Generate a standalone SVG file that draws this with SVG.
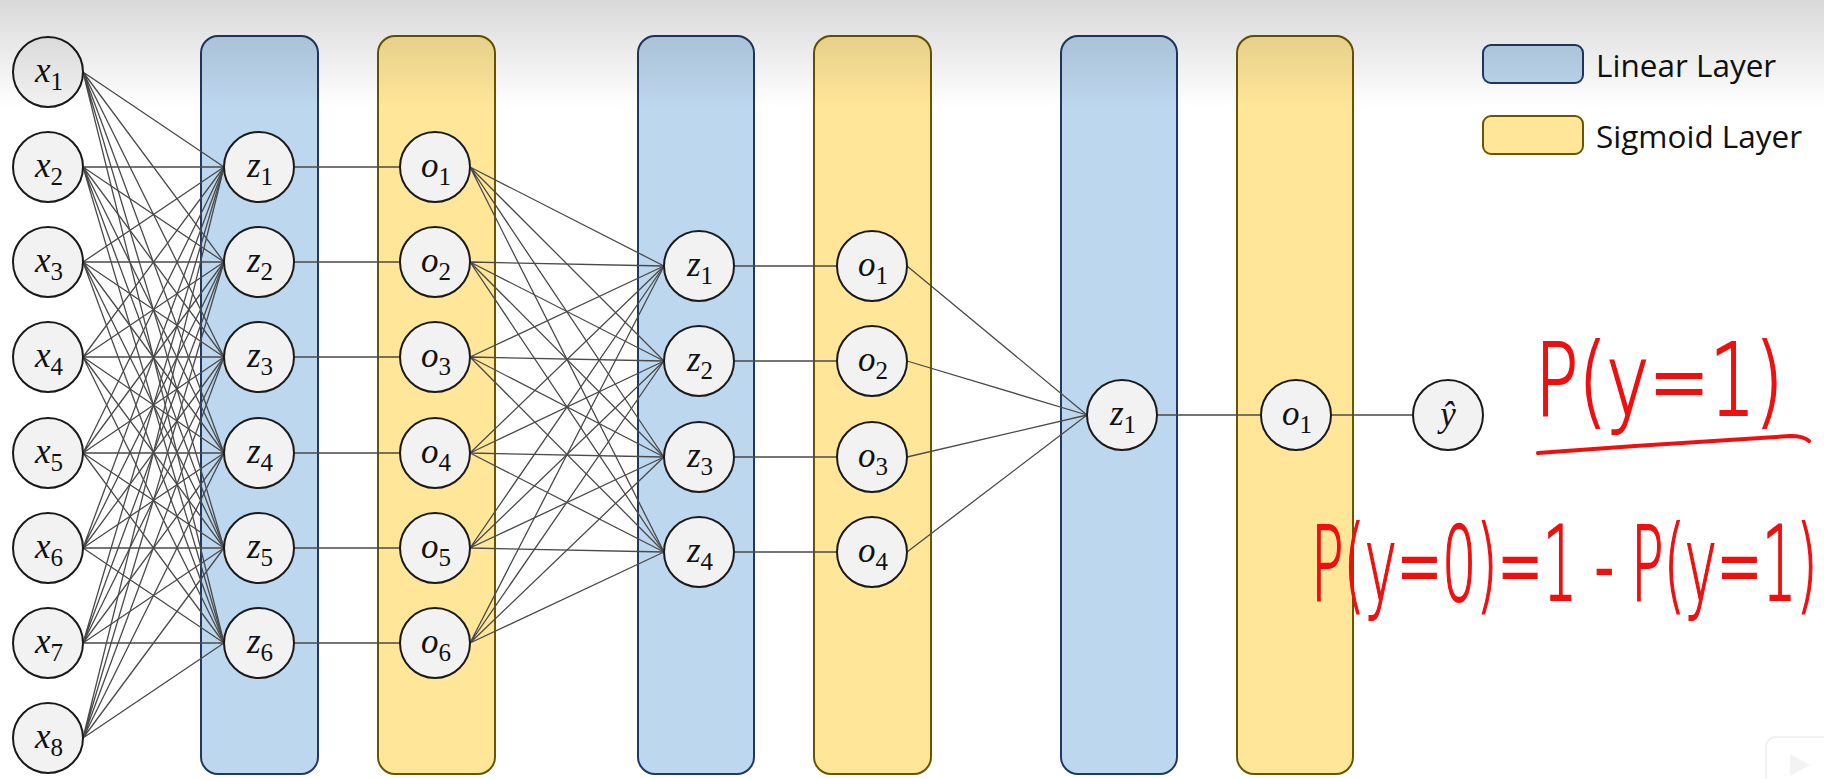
<svg xmlns="http://www.w3.org/2000/svg" width="1824" height="779" viewBox="0 0 1824 779">
<defs>
<linearGradient id="shade" x1="0" y1="0" x2="0" y2="1">
<stop offset="0" stop-color="#000" stop-opacity="0.15"/>
<stop offset="1" stop-color="#000" stop-opacity="0"/>
</linearGradient>
<style>
.lin{fill:#BDD7EE;stroke:#1F3864;stroke-width:2}
.sig{fill:#FFE699;stroke:#6B5500;stroke-width:2}
.node{fill:#F2F2F2;stroke:#1A1A1A;stroke-width:2}
.edge{fill:none;stroke:#4A4A4A;stroke-width:1.3}
.lbl{font-family:"Liberation Serif",serif;font-size:35px;text-anchor:middle;fill:#111}
.v{font-style:italic}
.s{font-size:25px}
.leg{font-family:"Open Sans","Noto Sans",sans-serif;font-size:31.5px;fill:#111}
.hand{font-family:"DejaVu Sans",sans-serif;font-weight:200;fill:#EE1010;stroke:#EE1010;stroke-width:2}
</style>
</defs>
<rect width="1824" height="779" fill="#FFFFFF"/>

<g id="columns">
<rect id="lin1" class="lin" x="201" y="36" width="117" height="738" rx="17"/>
<rect id="sig1" class="sig" x="378" y="36" width="117" height="738" rx="17"/>
<rect id="lin2" class="lin" x="638" y="36" width="116" height="738" rx="17"/>
<rect id="sig2" class="sig" x="814" y="36" width="117" height="738" rx="17"/>
<rect id="lin3" class="lin" x="1061" y="36" width="116" height="738" rx="17"/>
<rect id="sig3" class="sig" x="1237" y="36" width="116" height="738" rx="17"/>
</g>

<g id="legend">
<rect class="lin" x="1483" y="45" width="100" height="38" rx="8"/>
<text class="leg" x="1596" y="77">Linear Layer</text>
<rect class="sig" x="1483" y="116" width="100" height="38" rx="8"/>
<text class="leg" x="1596" y="148">Sigmoid Layer</text>
</g>

<g id="connectors">
<path class="edge" d="M83 72L224 167M83 72L224 262M83 72L224 357M83 72L224 453M83 72L224 548M83 72L224 643"/>
<path class="edge" d="M83 167L224 167M83 167L224 262M83 167L224 357M83 167L224 453M83 167L224 548M83 167L224 643"/>
<path class="edge" d="M83 262L224 167M83 262L224 262M83 262L224 357M83 262L224 453M83 262L224 548M83 262L224 643"/>
<path class="edge" d="M83 357L224 167M83 357L224 262M83 357L224 357M83 357L224 453M83 357L224 548M83 357L224 643"/>
<path class="edge" d="M83 453L224 167M83 453L224 262M83 453L224 357M83 453L224 453M83 453L224 548M83 453L224 643"/>
<path class="edge" d="M83 548L224 167M83 548L224 262M83 548L224 357M83 548L224 453M83 548L224 548M83 548L224 643"/>
<path class="edge" d="M83 643L224 167M83 643L224 262M83 643L224 357M83 643L224 453M83 643L224 548M83 643L224 643"/>
<path class="edge" d="M83 738L224 167M83 738L224 262M83 738L224 357M83 738L224 453M83 738L224 548M83 738L224 643"/>
<path class="edge" d="M294 167H400M294 262H400M294 357H400M294 453H400M294 548H400M294 643H400"/>
<path class="edge" d="M470 167L664 266M470 167L664 361M470 167L664 457M470 167L664 552"/>
<path class="edge" d="M470 262L664 266M470 262L664 361M470 262L664 457M470 262L664 552"/>
<path class="edge" d="M470 357L664 266M470 357L664 361M470 357L664 457M470 357L664 552"/>
<path class="edge" d="M470 453L664 266M470 453L664 361M470 453L664 457M470 453L664 552"/>
<path class="edge" d="M470 548L664 266M470 548L664 361M470 548L664 457M470 548L664 552"/>
<path class="edge" d="M470 643L664 266M470 643L664 361M470 643L664 457M470 643L664 552"/>
<path class="edge" d="M734 266H837M734 361H837M734 457H837M734 552H837"/>
<path class="edge" d="M907 266L1087 415M907 361L1087 415M907 457L1087 415M907 552L1087 415"/>
<path class="edge" d="M1157 415H1261M1331 415H1413"/>
</g>

<g id="input-layer">
<g id="x1"><circle class="node" cx="48" cy="72" r="35"/><text class="lbl" x="49" y="82"><tspan class="v">x</tspan><tspan class="s" dy="8">1</tspan></text></g>
<g id="x2"><circle class="node" cx="48" cy="167" r="35"/><text class="lbl" x="49" y="177"><tspan class="v">x</tspan><tspan class="s" dy="8">2</tspan></text></g>
<g id="x3"><circle class="node" cx="48" cy="262" r="35"/><text class="lbl" x="49" y="272"><tspan class="v">x</tspan><tspan class="s" dy="8">3</tspan></text></g>
<g id="x4"><circle class="node" cx="48" cy="357" r="35"/><text class="lbl" x="49" y="367"><tspan class="v">x</tspan><tspan class="s" dy="8">4</tspan></text></g>
<g id="x5"><circle class="node" cx="48" cy="453" r="35"/><text class="lbl" x="49" y="463"><tspan class="v">x</tspan><tspan class="s" dy="8">5</tspan></text></g>
<g id="x6"><circle class="node" cx="48" cy="548" r="35"/><text class="lbl" x="49" y="558"><tspan class="v">x</tspan><tspan class="s" dy="8">6</tspan></text></g>
<g id="x7"><circle class="node" cx="48" cy="643" r="35"/><text class="lbl" x="49" y="653"><tspan class="v">x</tspan><tspan class="s" dy="8">7</tspan></text></g>
<g id="x8"><circle class="node" cx="48" cy="738" r="35"/><text class="lbl" x="49" y="748"><tspan class="v">x</tspan><tspan class="s" dy="8">8</tspan></text></g>
</g>

<g id="linear-1">
<g id="l1z1"><circle class="node" cx="259" cy="167" r="35"/><text class="lbl" x="260" y="177"><tspan class="v">z</tspan><tspan class="s" dy="8">1</tspan></text></g>
<g id="l1z2"><circle class="node" cx="259" cy="262" r="35"/><text class="lbl" x="260" y="272"><tspan class="v">z</tspan><tspan class="s" dy="8">2</tspan></text></g>
<g id="l1z3"><circle class="node" cx="259" cy="357" r="35"/><text class="lbl" x="260" y="367"><tspan class="v">z</tspan><tspan class="s" dy="8">3</tspan></text></g>
<g id="l1z4"><circle class="node" cx="259" cy="453" r="35"/><text class="lbl" x="260" y="463"><tspan class="v">z</tspan><tspan class="s" dy="8">4</tspan></text></g>
<g id="l1z5"><circle class="node" cx="259" cy="548" r="35"/><text class="lbl" x="260" y="558"><tspan class="v">z</tspan><tspan class="s" dy="8">5</tspan></text></g>
<g id="l1z6"><circle class="node" cx="259" cy="643" r="35"/><text class="lbl" x="260" y="653"><tspan class="v">z</tspan><tspan class="s" dy="8">6</tspan></text></g>
</g>

<g id="sigmoid-1">
<g id="s1o1"><circle class="node" cx="435" cy="167" r="35"/><text class="lbl" x="436" y="177"><tspan class="v">o</tspan><tspan class="s" dy="8">1</tspan></text></g>
<g id="s1o2"><circle class="node" cx="435" cy="262" r="35"/><text class="lbl" x="436" y="272"><tspan class="v">o</tspan><tspan class="s" dy="8">2</tspan></text></g>
<g id="s1o3"><circle class="node" cx="435" cy="357" r="35"/><text class="lbl" x="436" y="367"><tspan class="v">o</tspan><tspan class="s" dy="8">3</tspan></text></g>
<g id="s1o4"><circle class="node" cx="435" cy="453" r="35"/><text class="lbl" x="436" y="463"><tspan class="v">o</tspan><tspan class="s" dy="8">4</tspan></text></g>
<g id="s1o5"><circle class="node" cx="435" cy="548" r="35"/><text class="lbl" x="436" y="558"><tspan class="v">o</tspan><tspan class="s" dy="8">5</tspan></text></g>
<g id="s1o6"><circle class="node" cx="435" cy="643" r="35"/><text class="lbl" x="436" y="653"><tspan class="v">o</tspan><tspan class="s" dy="8">6</tspan></text></g>
</g>

<g id="linear-2">
<g id="l2z1"><circle class="node" cx="699" cy="266" r="35"/><text class="lbl" x="700" y="276"><tspan class="v">z</tspan><tspan class="s" dy="8">1</tspan></text></g>
<g id="l2z2"><circle class="node" cx="699" cy="361" r="35"/><text class="lbl" x="700" y="371"><tspan class="v">z</tspan><tspan class="s" dy="8">2</tspan></text></g>
<g id="l2z3"><circle class="node" cx="699" cy="457" r="35"/><text class="lbl" x="700" y="467"><tspan class="v">z</tspan><tspan class="s" dy="8">3</tspan></text></g>
<g id="l2z4"><circle class="node" cx="699" cy="552" r="35"/><text class="lbl" x="700" y="562"><tspan class="v">z</tspan><tspan class="s" dy="8">4</tspan></text></g>
</g>

<g id="sigmoid-2">
<g id="s2o1"><circle class="node" cx="872" cy="266" r="35"/><text class="lbl" x="873" y="276"><tspan class="v">o</tspan><tspan class="s" dy="8">1</tspan></text></g>
<g id="s2o2"><circle class="node" cx="872" cy="361" r="35"/><text class="lbl" x="873" y="371"><tspan class="v">o</tspan><tspan class="s" dy="8">2</tspan></text></g>
<g id="s2o3"><circle class="node" cx="872" cy="457" r="35"/><text class="lbl" x="873" y="467"><tspan class="v">o</tspan><tspan class="s" dy="8">3</tspan></text></g>
<g id="s2o4"><circle class="node" cx="872" cy="552" r="35"/><text class="lbl" x="873" y="562"><tspan class="v">o</tspan><tspan class="s" dy="8">4</tspan></text></g>
</g>

<g id="linear-3">
<g id="l3z1"><circle class="node" cx="1122" cy="415" r="35"/><text class="lbl" x="1123" y="425"><tspan class="v">z</tspan><tspan class="s" dy="8">1</tspan></text></g>
</g>
<g id="sigmoid-3">
<g id="s3o1"><circle class="node" cx="1296" cy="415" r="35"/><text class="lbl" x="1297" y="425"><tspan class="v">o</tspan><tspan class="s" dy="8">1</tspan></text></g>
</g>
<g id="output">
<g id="yhat"><circle class="node" cx="1448" cy="415" r="35"/><text class="lbl v" x="1448" y="426">ŷ</text></g>
</g>

<g id="handwriting">
<text class="hand" transform="translate(1535 415) scale(0.72 1)" x="0" y="0" font-size="100">P(y=1)</text>
<path d="M1538 453C1620 447 1720 440 1790 436C1800 436 1806 438 1809 441" fill="none" stroke="#EE1010" stroke-width="4" stroke-linecap="round"/>
<text class="hand" transform="translate(1311 600) scale(0.52 1)" x="0" y="0" font-size="104">P(y=0)=1 - P(y=1)</text>
</g>

<rect id="top-shade" x="0" y="0" width="1824" height="108" fill="url(#shade)"/>

<g id="watermark" opacity="0.5">
<rect x="1766" y="737" width="70" height="60" rx="10" fill="#FFFFFF" stroke="#E4E4E4" stroke-width="2"/>
<path d="M1790 754L1810 765L1790 776Z" fill="#E8E8E8"/>
</g>
</svg>
